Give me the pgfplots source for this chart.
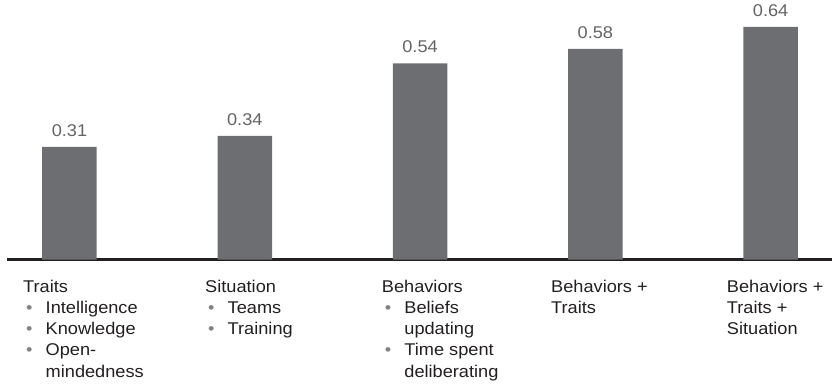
\documentclass[border=0pt]{standalone}
\usepackage{fontspec}
\setmainfont{Liberation Sans}[FakeStretch=1.07]
\usepackage{pgfplots}
\pgfplotsset{compat=1.18}
\definecolor{barg}{HTML}{6D6E71}
\definecolor{valg}{HTML}{636466}
\definecolor{txt}{HTML}{231F20}
\definecolor{bul}{HTML}{808285}
\newcommand{\fs}{\fontsize{17}{20}\selectfont}
\newcommand{\catline}[3]{\node[anchor=base west, inner sep=0, text=txt, font=\fs] at (#1, {383-292.3-21.2*#2}) {#3};}
\newcommand{\catbul}[3]{\node[anchor=base west, inner sep=0, text=bul, font=\fs] at ({#1+3}, {383-292.3-21.2*#2}) {•};
\node[anchor=base west, inner sep=0, text=txt, font=\fs] at ({#1+22.5}, {383-292.3-21.2*#2}) {#3};}
\begin{document}
\begin{tikzpicture}[x=1pt,y=1pt]
\useasboundingbox (0,0) rectangle (832,383);
\begin{axis}[
  at={(7pt,123.5pt)}, anchor=south west,
  scale only axis, width=825pt, height=259.5pt,
  xmin=-0.3565, xmax=4.35, ymin=0, ymax=0.7143,
  hide y axis, axis x line*=bottom,
  x axis line style={line width=2pt, color=txt, -},
  xtick=\empty, ytick=\empty,
  clip=false,
  ybar, bar width=54.5pt,
  nodes near coords,
  point meta=y,
  nodes near coords style={anchor=base, inner sep=0, yshift=10.5pt, text=valg, font=\fs,
    /pgf/number format/.cd, fixed, fixed zerofill, precision=2, assume math mode=true},
]
\addplot[fill=barg, draw=none] coordinates {(0,0.31) (1,0.34) (2,0.54) (3,0.58) (4,0.64)};
\end{axis}
\catline{23}{0}{Traits}
\catbul{23}{1}{Intelligence}
\catbul{23}{2}{Knowledge}
\catbul{23}{3}{Open-}
\catline{45.5}{4}{mindedness}
\catline{205}{0}{Situation}
\catbul{205}{1}{Teams}
\catbul{205}{2}{Training}
\catline{381.7}{0}{Behaviors}
\catbul{381.7}{1}{Beliefs}
\catline{404.2}{2}{updating}
\catbul{381.7}{3}{Time spent}
\catline{404.2}{4}{deliberating}
\catline{551}{0}{Behaviors +}
\catline{551}{1}{Traits}
\catline{726.7}{0}{Behaviors +}
\catline{726.7}{1}{Traits +}
\catline{726.7}{2}{Situation}
\end{tikzpicture}
\end{document}
